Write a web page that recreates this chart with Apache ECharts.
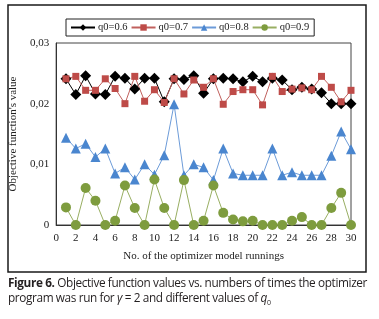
<!DOCTYPE html>
<html>
<head>
<meta charset="utf-8">
<script src="https://cdn.jsdelivr.net/npm/echarts@6/dist/echarts.min.js"></script>
<style>
html,body{margin:0;padding:0;background:#fff;}
#wrap{position:relative;width:379px;height:319px;}
#chart{position:absolute;left:0;top:0;width:379px;height:319px;}
#cap{position:absolute;left:8px;top:275px;width:370px;font-family:"Open Sans","Liberation Sans",sans-serif;font-size:11.8px;line-height:15px;color:#231f20;letter-spacing:-0.38px;white-space:nowrap;}
#cap b{font-weight:700;}
#cap sub{font-size:7px;vertical-align:-3px;}
</style>
</head>
<body>
<div id="wrap">
<div id="chart"></div>
<div id="cap"><b>Figure 6.</b> Objective function values vs. numbers of times the optimizer<br>program was run for <i>γ</i> = 2 and different values of <i>q</i><sub>0</sub></div>
</div>
<script>
var runs = [1,2,3,4,5,6,7,8,9,10,11,12,13,14,15,16,17,18,19,20,21,22,23,24,25,26,27,28,29,30];
var seriesNames = ['q0=0.6','q0=0.7','q0=0.8','q0=0.9'];
var q06 = [0.0241,0.0215,0.0246,0.0216,0.0215,0.0245,0.0242,0.0224,0.0242,0.0242,0.0203,0.0241,0.0240,0.0246,0.0217,0.0241,0.0242,0.0241,0.0236,0.0245,0.0236,0.0242,0.0239,0.0223,0.0227,0.0224,0.0218,0.0200,0.0200,0.0200];
var q07 = [0.0241,0.0245,0.0222,0.0222,0.0241,0.0225,0.0200,0.0245,0.0204,0.0223,0.0202,0.0241,0.0216,0.0239,0.0227,0.0241,0.0199,0.0220,0.0223,0.0223,0.0198,0.0245,0.0220,0.0224,0.0226,0.0223,0.0245,0.0227,0.0203,0.0222];
var q08 = [0.0144,0.0126,0.0134,0.0112,0.0126,0.0085,0.0095,0.0075,0.0100,0.0083,0.0115,0.0199,0.0082,0.0100,0.0095,0.0074,0.0126,0.0085,0.0082,0.0082,0.0082,0.0126,0.0082,0.0087,0.0082,0.0082,0.0082,0.0114,0.0154,0.0125];
var q09 = [0.0029,0.0000,0.0061,0.0040,0.0000,0.0007,0.0065,0.0028,0.0000,0.0075,0.0028,0.0000,0.0074,0.0000,0.0007,0.0065,0.0020,0.0009,0.0006,0.0007,0.0000,0.0000,0.0000,0.0007,0.0013,0.0000,0.0000,0.0028,0.0053,0.0000];
var xTicks = [0,2,4,6,8,10,12,14,16,18,20,22,24,26,28,30];
var yTicks = ['0','0,01','0,02','0,03'];

function pairs(vals){ return runs.map(function(r,i){ return [r, vals[i]]; }); }

var serif = '"Liberation Serif","Times New Roman",serif';
var chart = echarts.init(document.getElementById('chart'), null, {renderer:'canvas'});
var colors = ['#000000','#BE4B48','#4A86CF','#7E9C3E'];
var lineColors = ['#000000','#C0605D','#6C9BD8','#98AE62'];
function mk(name, vals, idx, symbol, size){
  return {
    name: name, type: 'line', data: pairs(vals),
    symbol: symbol, symbolSize: size,
    itemStyle: {color: colors[idx]},
    lineStyle: {color: lineColors[idx], width: 1},
    emphasis: {disabled: true}, animation: false
  };
}
chart.setOption({
  animation: false,
  graphic: [{type:'rect', shape:{x:8,y:5,width:358,height:267}, style:{fill:'none', stroke:'#1a1a1a', lineWidth:1.5}, silent:true}],
  legend: {
    left: 66, top: 19, itemWidth: 24, itemHeight: 8, itemGap: 3,
    padding: [3,5,3,4],
    borderColor: '#222', borderWidth: 1,
    textStyle: {fontFamily: serif, fontSize: 10.5, color: '#222', padding: [0,0,0,-2]},
    data: seriesNames
  },
  grid: {left: 55, right: 28, top: 43, bottom: 94, show: true, borderColor: '#444', borderWidth: 1, backgroundColor: 'transparent'},
  xAxis: {
    type: 'value', min: 0, max: 30, interval: 2,
    name: 'No. of the optimizer model runnings', nameLocation: 'middle', nameGap: 26,
    nameTextStyle: {fontFamily: serif, fontSize: 11, color: '#222'},
    axisLine: {show: true, lineStyle: {color: '#333'}},
    axisTick: {show: false}, splitLine: {show: false},
    axisLabel: {fontFamily: serif, fontSize: 11, color: '#222', margin: 8,
      formatter: function(v){ return xTicks.indexOf(v) >= 0 ? String(v) : ''; }}
  },
  yAxis: {
    type: 'value', min: 0, max: 0.03, interval: 0.01,
    name: "Objective function's value", nameLocation: 'middle', nameGap: 30,
    nameTextStyle: {fontFamily: serif, fontSize: 11, color: '#222'},
    axisLine: {show: true, lineStyle: {color: '#333'}},
    axisTick: {show: false}, splitLine: {show: false},
    axisLabel: {fontFamily: serif, fontSize: 11, color: '#222', margin: 7,
      formatter: function(v){ return yTicks[Math.round(v/0.01)]; }}
  },
  series: [
    mk(seriesNames[0], q06, 0, 'diamond', 11),
    mk(seriesNames[1], q07, 1, 'rect', 7),
    mk(seriesNames[2], q08, 2, 'triangle', 10),
    mk(seriesNames[3], q09, 3, 'circle', 10)
  ]
});
</script>
</body>
</html>
